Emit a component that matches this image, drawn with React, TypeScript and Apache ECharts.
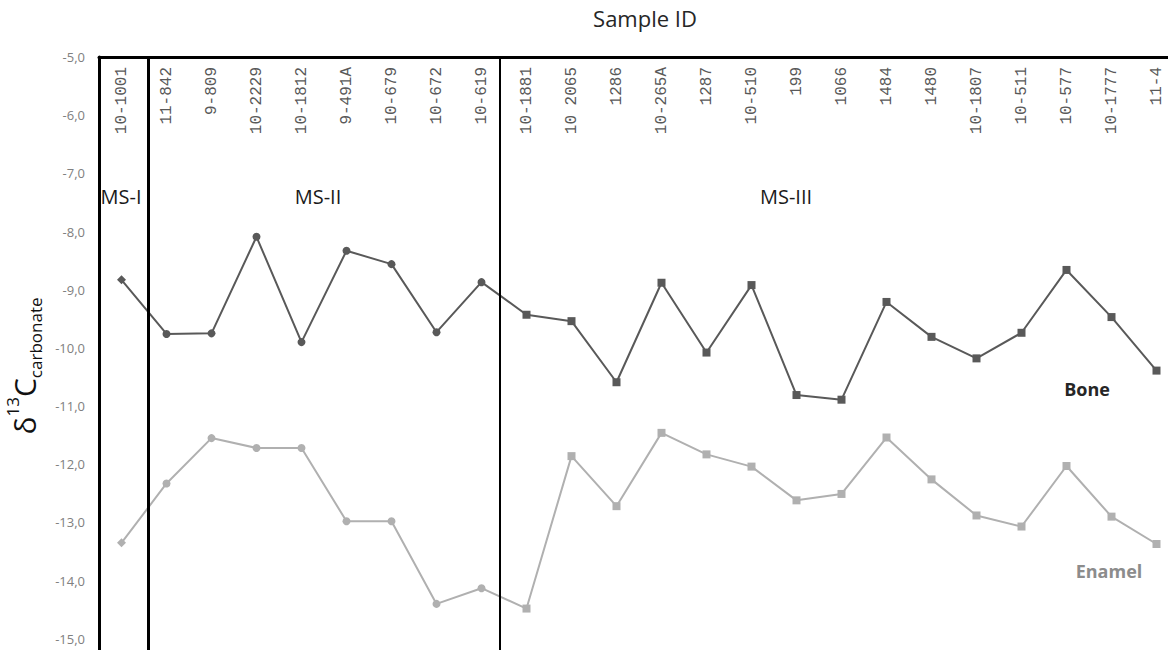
import React, { useEffect, useRef } from "react";
import * as echarts from "echarts";

const sampleIds = [
  "10-1001",
  "11-842", "9-809", "10-2229", "10-1812", "9-491A", "10-679", "10-672", "10-619",
  "10-1881", "10 2065", "1286", "10-265A", "1287", "10-510", "199", "1066", "1484", "1480",
  "10-1807", "10-511", "10-577", "10-1777", "11-4",
];
const groups = [
  "MS-I",
  "MS-II", "MS-II", "MS-II", "MS-II", "MS-II", "MS-II", "MS-II", "MS-II",
  "MS-III", "MS-III", "MS-III", "MS-III", "MS-III", "MS-III", "MS-III", "MS-III", "MS-III",
  "MS-III", "MS-III", "MS-III", "MS-III", "MS-III", "MS-III",
];
const boneValues = [
  -8.83,
  -9.76, -9.75, -8.09, -9.9, -8.33, -8.56, -9.73, -8.87,
  -9.43, -9.54, -10.59, -8.88, -10.08, -8.92, -10.81, -10.89, -9.21, -9.81,
  -10.18, -9.74, -8.66, -9.47, -10.39,
];
const enamelValues = [
  -13.35,
  -12.33, -11.55, -11.72, -11.72, -12.98, -12.98, -14.4, -14.13,
  -14.48, -11.86, -12.72, -11.46, -11.83, -12.04, -12.62, -12.51, -11.54, -12.26,
  -12.88, -13.07, -12.03, -12.9, -13.37,
];
// group boundaries in category-band units (0 = left edge of first band)
const groupBoundaries = [1.09, 8.91];
const yMin = -16;
const yMax = -5;

const symbolOf: Record<string, string> = { "MS-I": "diamond", "MS-II": "circle", "MS-III": "rect" };
const sizeOf: Record<string, number> = { "MS-I": 9, "MS-II": 8, "MS-III": 8 };

export default function App() {
  const ref = useRef<HTMLDivElement>(null);
  useEffect(() => {
    if (!ref.current) return;
    const chart = echarts.init(ref.current, undefined, { renderer: "svg" });
    const mk = (vals: number[]) =>
      vals.map((v, i) => ({ value: v, symbol: symbolOf[groups[i]], symbolSize: sizeOf[groups[i]] }));
    chart.setOption({
      animation: false,
      backgroundColor: "#ffffff",
      grid: { left: 99, top: 57, width: 1080, height: 640, containLabel: false, outerBoundsMode: "none" },
      xAxis: [
        {
          type: "category",
          position: "top",
          data: sampleIds,
          boundaryGap: true,
          axisLine: { show: true, lineStyle: { color: "#000", width: 3 } },
          axisTick: { show: false },
          splitLine: { show: false },
          axisLabel: {
            inside: true,
            rotate: -90,
            margin: 10,
            interval: 0,
            fontFamily: "Liberation Mono",
            fontSize: 16,
            color: "#595959",
          },
        },
        { type: "value", min: 0, max: 24, show: false, gridIndex: 0 },
      ],
      yAxis: {
        type: "value",
        min: yMin,
        max: yMax,
        interval: 1,
        axisLine: { show: true, lineStyle: { color: "#000", width: 3 } },
        axisTick: { show: false },
        splitLine: { show: false },
        axisLabel: {
          margin: 14,
          showMinLabel: false,
          fontFamily: "Open Sans",
          fontSize: 13,
          color: "#808080",
          formatter: (v: number) => v.toFixed(1).replace(".", ","),
        },
        name: "{d|δ}{sup|13}{d|C}{sub|carbonate}",
        nameLocation: "middle",
        nameRotate: 90,
        nameGap: 53,
        nameTextStyle: {
          padding: [0, 0, 0, 22],
          rich: {
            d: { fontSize: 30, fontFamily: "Open Sans", color: "#111", lineHeight: 40 },
            sup: { fontSize: 17, fontFamily: "Open Sans", color: "#111", lineHeight: 28, verticalAlign: "top" },
            sub: { fontSize: 17, fontFamily: "Open Sans", color: "#111", lineHeight: 17, verticalAlign: "bottom" },
          },
        },
      },
      series: [
        {
          name: "Enamel",
          type: "line",
          data: mk(enamelValues),
          itemStyle: { color: "#b0b0b0" },
          lineStyle: { color: "#b0b0b0", width: 2 },
        },
        {
          name: "Bone",
          type: "line",
          data: mk(boneValues),
          itemStyle: { color: "#595959" },
          lineStyle: { color: "#595959", width: 2 },
        },
        {
          name: "groups",
          type: "line",
          xAxisIndex: 1,
          data: [],
          silent: true,
          markLine: {
            silent: true,
            symbol: ["none", "none"],
            label: { show: false },
            data: groupBoundaries.map((b, i) => ({
              xAxis: b,
              lineStyle: { color: "#000", width: i === 0 ? 3 : 2, type: "solid" },
            })),
          },
        },
      ],
      graphic: [
        {
          type: "text", x: 645, y: 18,
          style: { text: "Sample ID", fontSize: 22, fontFamily: "Open Sans", fill: "#262626", align: "center", verticalAlign: "middle" },
        },
        {
          type: "text", x: 121, y: 196,
          style: { text: "MS-I", fontSize: 20, fontFamily: "Open Sans", fill: "#1a1a1a", align: "center", verticalAlign: "middle" },
        },
        {
          type: "text", x: 318, y: 196,
          style: { text: "MS-II", fontSize: 20, fontFamily: "Open Sans", fill: "#1a1a1a", align: "center", verticalAlign: "middle" },
        },
        {
          type: "text", x: 786, y: 196,
          style: { text: "MS-III", fontSize: 20, fontFamily: "Open Sans", fill: "#1a1a1a", align: "center", verticalAlign: "middle" },
        },
        {
          type: "text", x: 1087, y: 389,
          style: { text: "Bone", fontSize: 18, fontWeight: "bold", fontFamily: "Open Sans", fill: "#262626", align: "center", verticalAlign: "middle" },
        },
        {
          type: "text", x: 1109, y: 571,
          style: { text: "Enamel", fontSize: 18, fontWeight: "bold", fontFamily: "Open Sans", fill: "#8c8c8c", align: "center", verticalAlign: "middle" },
        },
      ],
    });
    return () => chart.dispose();
  }, []);
  return (
    <div
      ref={ref}
      style={{ position: "fixed", left: 0, top: 0, width: 1200, height: 700, background: "#fff" }}
    />
  );
}
